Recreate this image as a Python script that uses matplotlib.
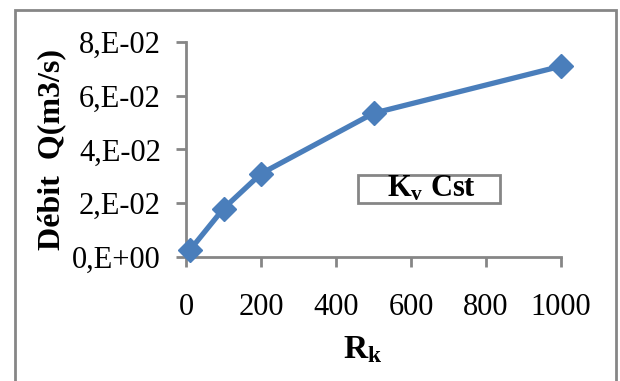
import matplotlib
matplotlib.use('Agg')
import matplotlib.pyplot as plt
import matplotlib.patches as m_patches

plt.rcParams['font.family'] = ['Liberation Serif', 'DejaVu Serif']
plt.rcParams['mathtext.fontset'] = 'custom'
plt.rcParams['mathtext.rm'] = 'Liberation Serif'
plt.rcParams['mathtext.bf'] = 'Liberation Serif:bold'
plt.rcParams['mathtext.it'] = 'Liberation Serif:italic'

# resistance coefficient vs. flow rate
rk = [10, 100, 200, 500, 1000]
debit = [0.0025, 0.018, 0.031, 0.0535, 0.071]

y_ticks = [0.0, 0.02, 0.04, 0.06, 0.08]
y_labels = ['0,E+00', '2,E-02', '4,E-02', '6,E-02', '8,E-02']
x_ticks = [0, 200, 400, 600, 800, 1000]

blue = '#4a7ebb'
grey = '#868686'

fig = plt.figure(figsize=(6.2, 3.81), dpi=100)
ax = fig.add_axes([0.300, 0.3255, 0.605, 0.5643])

ax.plot(rk, debit, color=blue, lw=3.8, marker='D', markersize=12,
        markerfacecolor=blue, markeredgecolor=blue, clip_on=False, zorder=3)

ax.set_xlim(0, 1000)
ax.set_ylim(0, 0.08)
ax.set_xticks(x_ticks)
ax.set_xticklabels([str(v) for v in x_ticks])
ax.set_yticks(y_ticks)
ax.set_yticklabels(y_labels)

for side in ['top', 'right']:
    ax.spines[side].set_visible(False)
for side in ['left', 'bottom']:
    ax.spines[side].set_color(grey)
    ax.spines[side].set_linewidth(2.0)

ax.tick_params(axis='both', colors=grey, labelcolor='black', labelsize=22,
               length=7, width=2.0, direction='out')
ax.tick_params(axis='x', pad=19)
ax.tick_params(axis='y', pad=11)

ax.set_ylabel('Débit  Q(m3/s)', fontsize=23, fontweight='bold', va='center')
ax.yaxis.set_label_coords(-0.357, 0.502)
ax.set_xlabel(r'$\mathbf{R}_{\mathbf{k}}$', fontsize=24, va='center')
ax.xaxis.set_label_coords(0.472, -0.433)

# legend-like box
box = m_patches.Rectangle((0.459, 0.251), 0.378, 0.130, transform=ax.transAxes,
                          facecolor='white', edgecolor=grey, lw=2.0, zorder=4)
ax.add_patch(box)
ax.text(0.655, 0.316, r'$\mathbf{K}_{\mathbf{v}}$' + ' Cst', transform=ax.transAxes,
        fontsize=22, fontweight='bold', ha='center', va='center', zorder=5)

border = m_patches.Rectangle((15 / 620, -0.05), 601 / 620, 1 - 10 / 381 + 0.05,
                             transform=fig.transFigure, fill=False,
                             edgecolor=grey, lw=2.0)
fig.patches.append(border)

fig.savefig('out.png', dpi=100)
